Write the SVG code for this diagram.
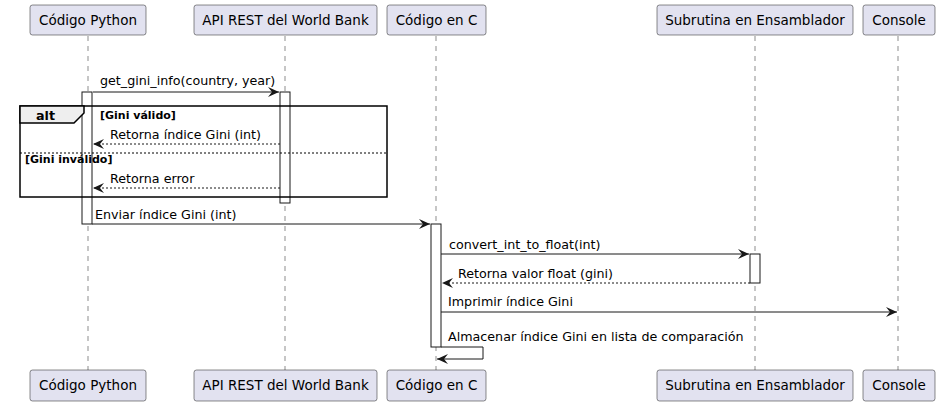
<svg xmlns="http://www.w3.org/2000/svg" width="939" height="406" viewBox="0 0 939 406">
<style>
.p rect{fill:#E2E2F0;stroke:#181818;stroke-width:0.5}
.p text{font-family:"DejaVu Sans",sans-serif;font-size:13.5px;fill:#000;text-anchor:middle}
.life{stroke:#181818;stroke-width:0.5;stroke-dasharray:5,5}
.act{fill:#FFFFFF;stroke:#181818;stroke-width:1}
.msg{stroke:#181818;stroke-width:1;fill:none}
.ret{stroke:#181818;stroke-width:1;fill:none;stroke-dasharray:2,2}
.t{font-family:"DejaVu Sans",sans-serif;font-size:12.7px;fill:#000}
.b{font-family:"DejaVu Sans",sans-serif;font-size:11px;font-weight:bold;fill:#000}
</style>
<defs>
<marker id="ah" markerWidth="12" markerHeight="10" refX="11" refY="5" orient="auto" markerUnits="userSpaceOnUse">
<path d="M0,0 L11,5 L0,10 L4,5 Z" fill="#181818"/>
</marker>
</defs>
<rect width="939" height="406" fill="#FFFFFF"/>
<g id="lifelines">
<line class="life" x1="88" y1="36" x2="88" y2="370"/>
<line class="life" x1="285" y1="36" x2="285" y2="370"/>
<line class="life" x1="436" y1="36" x2="436" y2="370"/>
<line class="life" x1="755" y1="36" x2="755" y2="370"/>
<line class="life" x1="898" y1="36" x2="898" y2="370"/>
</g>
<g id="p_python" class="p">
<rect x="30" y="5" width="116" height="30" rx="2.5"/><text x="88" y="25">Código Python</text>
<rect x="30" y="370" width="116" height="31" rx="2.5"/><text x="88" y="390">Código Python</text>
</g>
<g id="p_api" class="p">
<rect x="194" y="5" width="183" height="30" rx="2.5"/><text x="285.5" y="25">API REST del World Bank</text>
<rect x="194" y="370" width="183" height="31" rx="2.5"/><text x="285.5" y="390">API REST del World Bank</text>
</g>
<g id="p_c" class="p">
<rect x="387" y="5" width="99" height="30" rx="2.5"/><text x="436.5" y="25">Código en C</text>
<rect x="387" y="370" width="99" height="31" rx="2.5"/><text x="436.5" y="390">Código en C</text>
</g>
<g id="p_asm" class="p">
<rect x="657" y="5" width="196" height="30" rx="2.5"/><text x="755" y="25">Subrutina en Ensamblador</text>
<rect x="657" y="370" width="196" height="31" rx="2.5"/><text x="755" y="390">Subrutina en Ensamblador</text>
</g>
<g id="p_console" class="p">
<rect x="863" y="5" width="72" height="30" rx="2.5"/><text x="899" y="25">Console</text>
<rect x="863" y="370" width="72" height="31" rx="2.5"/><text x="899" y="390">Console</text>
</g>
<g id="activations">
<rect class="act" x="82" y="92" width="10" height="132"/>
<rect class="act" x="280" y="92" width="10" height="111"/>
<rect class="act" x="431" y="224" width="10" height="123"/>
<rect class="act" x="750" y="254" width="10" height="29"/>
</g>
<g id="alt_frame">
<rect x="20" y="106" width="367" height="91" fill="none" stroke="#000" stroke-width="1.5"/>
<path d="M20,106 L84,106 L84,113 L74,123 L20,123 Z" fill="#EEEEEE" stroke="#000" stroke-width="1.5"/>
<text class="t" x="36" y="120" font-weight="bold">alt</text>
<text class="b" x="100" y="119">[Gini válido]</text>
<line x1="20" y1="153" x2="387" y2="153" stroke="#000" stroke-width="1" stroke-dasharray="2,2"/>
<text class="b" x="25" y="163">[Gini inválido]</text>
</g>
<g id="connectors">
<line class="msg" x1="93" y1="92" x2="279" y2="92" marker-end="url(#ah)"/>
<text class="t" x="100" y="85">get_gini_info(country, year)</text>
<line class="ret" x1="280" y1="144" x2="93" y2="144" marker-end="url(#ah)"/>
<text class="t" x="110" y="139">Retorna índice Gini (int)</text>
<line class="ret" x1="280" y1="188" x2="93" y2="188" marker-end="url(#ah)"/>
<text class="t" x="110" y="183">Retorna error</text>
<line class="msg" x1="92" y1="224" x2="430" y2="224" marker-end="url(#ah)"/>
<text class="t" x="95" y="219">Enviar índice Gini (int)</text>
<line class="msg" x1="441" y1="254" x2="749" y2="254" marker-end="url(#ah)"/>
<text class="t" x="449" y="249">convert_int_to_float(int)</text>
<line class="ret" x1="750" y1="283" x2="442" y2="283" marker-end="url(#ah)"/>
<text class="t" x="458" y="278">Retorna valor float (gini)</text>
<line class="msg" x1="441" y1="312" x2="897" y2="312" marker-end="url(#ah)"/>
<text class="t" x="448" y="306">Imprimir índice Gini</text>
<polyline class="msg" points="441,347 483,347 483,359 437,359" marker-end="url(#ah)"/>
<text class="t" x="448" y="341">Almacenar índice Gini en lista de comparación</text>
</g>
</svg>
